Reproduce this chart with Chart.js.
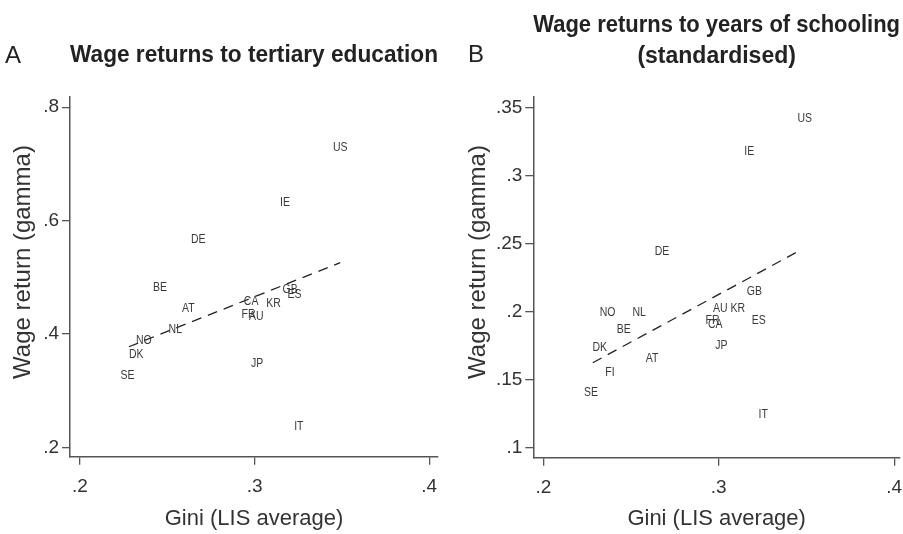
<!DOCTYPE html>
<html>
<head>
<meta charset="utf-8">
<script src="https://cdn.jsdelivr.net/npm/chart.js@4"></script>
<style>
  html, body { margin: 0; padding: 0; background: #fff; }
  #wrap { position: relative; width: 903px; height: 534px; }
  #panelA { position: absolute; left: 0; top: 0; }
  #panelB { position: absolute; left: 451px; top: 0; }
</style>
</head>
<body>
<div id="wrap">
  <canvas id="panelA" width="451" height="534"></canvas>
  <canvas id="panelB" width="452" height="534"></canvas>
</div>
<script>
// country codes and Gini (LIS average), shared by both panels
const countries = ['US', 'IE', 'DE', 'BE', 'AT', 'CA', 'FR', 'AU', 'KR', 'GB', 'ES', 'NL', 'NO', 'DK', 'SE', 'JP', 'IT', 'FI'];
const gini = [0.349, 0.3174, 0.2677, 0.2459, 0.262, 0.298, 0.2965, 0.3009, 0.3108, 0.3203, 0.3228, 0.2546, 0.2366, 0.2322, 0.2272, 0.3015, 0.3253, 0.238];

// panel A: wage returns to tertiary education (FI not shown)
const tertiary = [0.728, 0.632, 0.566, 0.482, 0.445, 0.458, 0.435, 0.430, 0.454, 0.4775, 0.469, 0.408, 0.3875, 0.364, 0.326, 0.348, 0.237, null];
// panel B: wage returns to years of schooling (standardised)
const schooling = [0.3419, 0.3174, 0.2441, 0.1868, 0.1654, 0.19, 0.1936, 0.2022, 0.2022, 0.2142, 0.1936, 0.1988, 0.1988, 0.1732, 0.140, 0.1752, 0.1238, 0.1551];

// fitted lines (end points)
const fitGiniA = [0.228, 0.349];
const fitA = [0.3774, 0.5257];
const fitGiniB = [0.2282, 0.346];
const fitB = [0.1622, 0.2446];

const xTicks = [0.2, 0.3, 0.4];
const xTickLabels = ['.2', '.3', '.4'];
const yTicksA = [0.2, 0.4, 0.6, 0.8];
const yTickLabelsA = ['.2', '.4', '.6', '.8'];
const yTicksB = [0.1, 0.15, 0.2, 0.25, 0.3, 0.35];
const yTickLabelsB = ['.1', '.15', '.2', '.25', '.3', '.35'];

const xTitle = 'Gini (LIS average)';
const yTitle = 'Wage return (gamma)';

const FONT = "'Liberation Sans', Arial, sans-serif";
Chart.defaults.font.family = FONT;
Chart.defaults.color = '#333';

// draws the country codes at the scatter points (slightly condensed, like the original)
const codeLabels = {
  id: 'codeLabels',
  afterDatasetsDraw(chart) {
    const meta = chart.getDatasetMeta(0);
    const ds = chart.data.datasets[0];
    const ctx = chart.ctx;
    ctx.save();
    ctx.font = '12.5px ' + FONT;
    ctx.fillStyle = '#3a3a3a';
    ctx.textAlign = 'center';
    ctx.textBaseline = 'middle';
    meta.data.forEach((pt, i) => {
      if (ds.data[i].y == null || pt.skip) return;
      ctx.save();
      ctx.translate(pt.x, pt.y);
      ctx.scale(0.84, 1);
      ctx.fillText(ds.codes[i], 0, 0);
      ctx.restore();
    });
    ctx.restore();
  }
};

// panel letter (A / B) and the rotated y axis title
const panelText = {
  id: 'panelText',
  afterDraw(chart, args, opts) {
    const ctx = chart.ctx;
    ctx.save();
    ctx.fillStyle = '#222';
    ctx.font = '24px ' + FONT;
    ctx.textAlign = 'left';
    ctx.textBaseline = 'alphabetic';
    ctx.fillText(opts.letter, opts.letterX, opts.letterY);

    ctx.fillStyle = '#333';
    ctx.font = '24px ' + FONT;
    ctx.translate(opts.yTitleX, opts.yTitleY);
    ctx.rotate(-Math.PI / 2);
    ctx.textAlign = 'center';
    ctx.fillText(yTitle, 0, 0);
    ctx.restore();
  }
};

function makePanel(id, cfg) {
  const points = gini.map((g, i) => ({ x: g, y: cfg.values[i] }));
  const fit = cfg.fitX.map((g, i) => ({ x: g, y: cfg.fitY[i] }));
  const axisColor = '#555';

  return new Chart(document.getElementById(id), {
    type: 'scatter',
    data: {
      datasets: [
        { data: points, codes: countries, pointRadius: 0, showLine: false },
        { type: 'line', data: fit, borderColor: '#222', borderWidth: 1.3,
          borderDash: [10, 7], pointRadius: 0, fill: false }
      ]
    },
    plugins: [codeLabels, panelText],
    options: {
      responsive: false,
      animation: false,
      events: [],
      layout: { autoPadding: false, padding: { left: 0, right: cfg.padRight, top: 0, bottom: 0 } },
      plugins: {
        legend: { display: false },
        tooltip: { enabled: false },
        panelText: cfg.text,
        title: {
          display: true,
          fullSize: false,
          text: cfg.title,
          color: '#222',
          font: { size: 23, weight: 'bold', lineHeight: cfg.titleLH },
          padding: cfg.titlePad
        }
      },
      scales: {
        x: {
          type: 'linear',
          min: cfg.xMin,
          max: cfg.xMax,
          afterBuildTicks: s => { s.ticks = xTicks.map(v => ({ value: v })); },
          afterFit: s => { s.height = cfg.xHeight; s.paddingLeft = 0; s.paddingRight = 0; },
          ticks: {
            padding: 11,
            font: { size: 19 },
            color: '#333',
            callback: v => xTickLabels[xTicks.indexOf(v)]
          },
          grid: { drawOnChartArea: false, drawTicks: true, tickLength: 8, color: axisColor, lineWidth: 1.3 },
          border: { display: true, color: axisColor, width: 1.5 },
          title: {
            display: true,
            text: xTitle,
            color: '#333',
            font: { size: 22, lineHeight: 1.2 },
            padding: { top: 0, bottom: 1.6 }
          }
        },
        y: {
          type: 'linear',
          min: cfg.yMin,
          max: cfg.yMax,
          afterBuildTicks: s => { s.ticks = cfg.yTicks.map(v => ({ value: v })); },
          afterFit: s => { s.width = cfg.yWidth; s.paddingTop = 0; s.paddingBottom = 0; },
          ticks: {
            padding: 3,
            font: { size: 19 },
            color: '#333',
            callback: v => cfg.yTickLabels[cfg.yTicks.indexOf(v)]
          },
          grid: { drawOnChartArea: false, drawTicks: true, tickLength: 8, color: axisColor, lineWidth: 1.3 },
          border: { display: true, color: axisColor, width: 1.5 }
        }
      }
    }
  });
}

makePanel('panelA', {
  values: tertiary,
  fitX: fitGiniA, fitY: fitA,
  title: 'Wage returns to tertiary education',
  titleLH: 1.2,
  titlePad: { top: 42.1, bottom: 27.3 },
  text: { letter: 'A', letterX: 5, letterY: 62.5, yTitleX: 30, yTitleY: 262 },
  xMin: 0.1943, xMax: 0.405,
  yMin: 0.1834, yMax: 0.818,
  yTicks: yTicksA, yTickLabels: yTickLabelsA,
  yWidth: 70, xHeight: 77.3, padRight: 13
});

makePanel('panelB', {
  values: schooling,
  fitX: fitGiniB, fitY: fitB,
  title: ['Wage returns to years of schooling', '(standardised)'],
  titleLH: 1.348,
  titlePad: { top: 9.7, bottom: 25 },
  text: { letter: 'B', letterX: 17, letterY: 62, yTitleX: 34, yTitleY: 262 },
  xMin: 0.1943, xMax: 0.4033,
  yMin: 0.0924, yMax: 0.3578,
  yTicks: yTicksB, yTickLabels: yTickLabelsB,
  yWidth: 82.3, xHeight: 76.3, padRight: 3
});
</script>
</body>
</html>
